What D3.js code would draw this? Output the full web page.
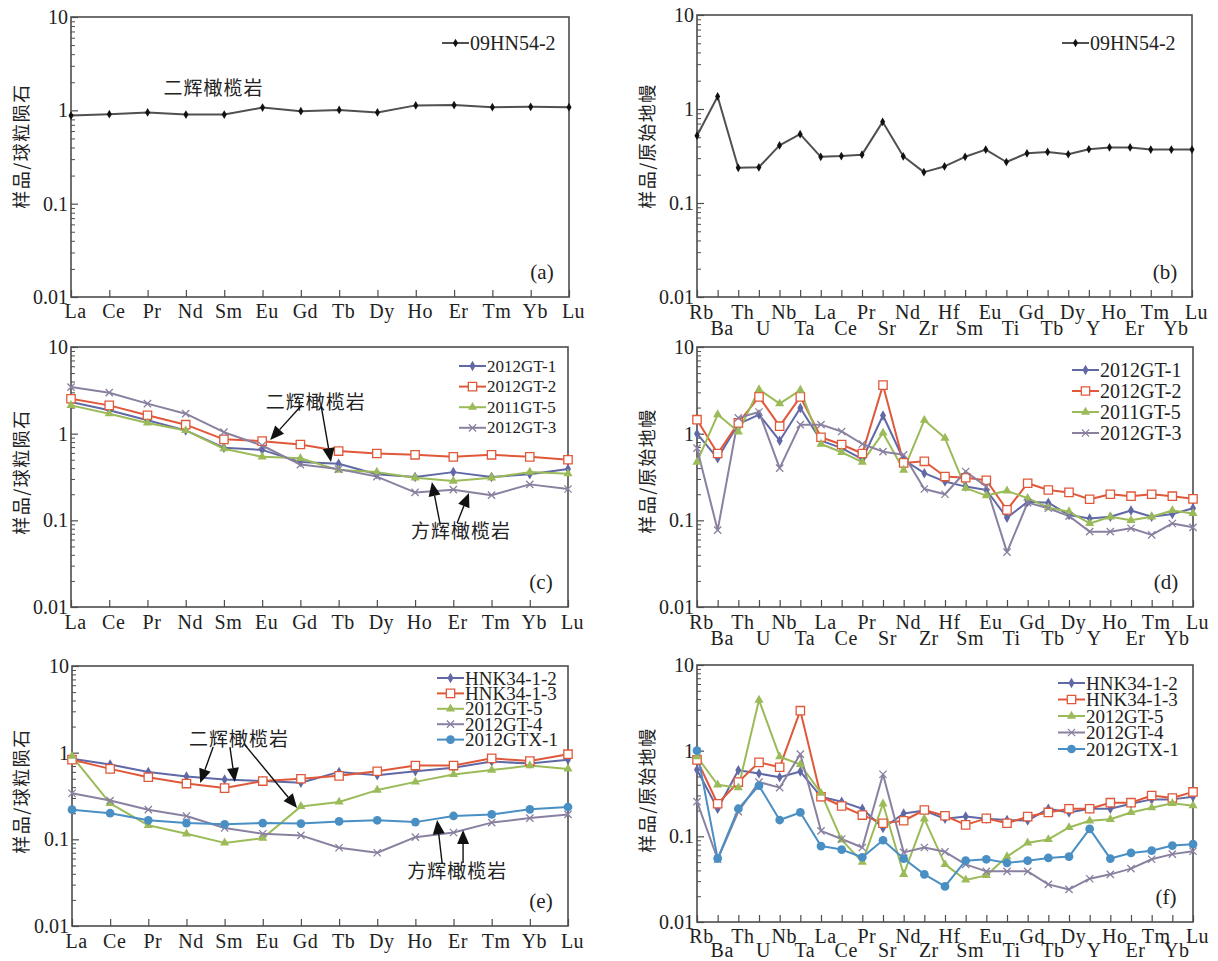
<!DOCTYPE html>
<html>
<head>
<meta charset="utf-8">
<script src="https://cdn.jsdelivr.net/npm/d3@7"></script>
<style>
  body { margin: 0; background: #fff; }
  svg text { font-family: "Liberation Serif", "Times New Roman", serif; fill: #222; }
  svg text.cjk { font-family: "Noto Sans CJK SC", "Noto Sans", sans-serif; }
</style>
</head>
<body>
<div id="chart"></div>
<script>
// ---------- categories and tick labels ----------
const reeLabels = ["La","Ce","Pr","Nd","Sm","Eu","Gd","Tb","Dy","Ho","Er","Tm","Yb","Lu"];
const spiderLabels = ["Rb","Ba","Th","U","Nb","Ta","La","Ce","Pr","Sr","Nd","Zr","Hf","Sm","Eu","Ti","Gd","Tb","Dy","Y","Ho","Er","Tm","Yb","Lu"];
const yTicks = [0.01, 0.1, 1, 10];
const yTickLabels = ["0.01", "0.1", "1", "10"];

// ---------- (a) chondrite normalised, (b) primitive mantle normalised ----------
const ree_09HN54_2 = [0.88,0.91,0.95,0.90,0.90,1.07,0.98,1.01,0.95,1.13,1.14,1.08,1.09,1.08];
const pm_09HN54_2 = [0.52,1.36,0.237,0.24,0.41,0.54,0.31,0.316,0.327,0.73,0.314,0.213,0.245,0.31,0.37,0.273,0.338,0.349,0.33,0.373,0.39,0.39,0.37,0.37,0.37];

// ---------- (c) / (d) ----------
const ree_2012GT_1 = [2.32,1.86,1.43,1.09,0.69,0.65,0.47,0.45,0.34,0.316,0.36,0.316,0.34,0.39];
const ree_2012GT_2 = [2.53,2.12,1.63,1.27,0.86,0.82,0.75,0.63,0.59,0.57,0.54,0.57,0.54,0.50];
const ree_2011GT_5 = [2.12,1.70,1.33,1.09,0.67,0.54,0.52,0.38,0.36,0.31,0.284,0.31,0.36,0.345];
const ree_2012GT_3 = [3.45,2.97,2.22,1.70,1.04,0.73,0.44,0.39,0.32,0.21,0.226,0.195,0.26,0.23];

const pm_2012GT_1 = [1.0,0.52,1.29,1.66,0.83,1.98,0.83,0.68,0.51,1.62,0.50,0.35,0.28,0.245,0.224,0.107,0.164,0.16,0.115,0.105,0.11,0.13,0.11,0.118,0.138];
const pm_2012GT_2 = [1.45,0.59,1.33,2.66,1.22,2.66,0.91,0.75,0.59,3.63,0.46,0.48,0.32,0.31,0.29,0.132,0.268,0.224,0.21,0.175,0.20,0.19,0.20,0.19,0.177];
const pm_2011GT_5 = [0.47,1.66,1.05,3.23,2.22,3.18,0.76,0.61,0.47,1.02,0.38,1.43,0.89,0.235,0.193,0.219,0.18,0.14,0.126,0.092,0.11,0.10,0.11,0.13,0.12];
const pm_2012GT_3 = [0.68,0.077,1.52,1.78,0.40,1.27,1.27,1.06,0.76,0.62,0.57,0.23,0.20,0.366,0.245,0.043,0.16,0.138,0.112,0.074,0.074,0.081,0.068,0.092,0.083];

// ---------- (e) / (f) ----------
const ree_HNK34_1_2 = [0.85,0.73,0.60,0.53,0.49,0.47,0.45,0.60,0.55,0.61,0.67,0.79,0.75,0.83];
const ree_HNK34_1_3 = [0.83,0.65,0.52,0.44,0.39,0.47,0.50,0.54,0.61,0.71,0.71,0.86,0.80,0.96];
const ree_2012GT_5 = [0.91,0.26,0.145,0.116,0.091,0.103,0.24,0.27,0.37,0.46,0.56,0.63,0.71,0.65];
const ree_2012GT_4 = [0.34,0.28,0.22,0.186,0.135,0.116,0.111,0.080,0.070,0.106,0.12,0.156,0.176,0.194];
const ree_2012GTX_1 = [0.22,0.20,0.166,0.154,0.149,0.154,0.152,0.161,0.166,0.158,0.186,0.194,0.222,0.236];

const pm_HNK34_1_2 = [0.60,0.21,0.59,0.54,0.49,0.57,0.29,0.254,0.21,0.125,0.185,0.20,0.16,0.17,0.16,0.155,0.153,0.21,0.19,0.21,0.21,0.24,0.27,0.27,0.29];
const pm_HNK34_1_3 = [0.78,0.24,0.43,0.73,0.64,2.93,0.29,0.226,0.177,0.142,0.152,0.203,0.174,0.136,0.162,0.142,0.17,0.19,0.21,0.21,0.247,0.247,0.30,0.28,0.33];
const pm_2012GT_5 = [0.85,0.40,0.37,3.9,0.85,0.69,0.32,0.091,0.050,0.24,0.036,0.16,0.047,0.031,0.035,0.058,0.084,0.092,0.127,0.152,0.158,0.19,0.216,0.243,0.228];
const pm_2012GT_4 = [0.254,0.054,0.194,0.43,0.37,0.91,0.116,0.093,0.074,0.53,0.065,0.074,0.066,0.047,0.039,0.039,0.039,0.0275,0.024,0.032,0.036,0.042,0.054,0.062,0.067];
const pm_2012GTX_1 = [1.0,0.055,0.21,0.39,0.155,0.19,0.077,0.07,0.057,0.09,0.055,0.036,0.026,0.052,0.054,0.049,0.052,0.056,0.058,0.122,0.055,0.064,0.068,0.078,0.081];

// ---------- styles ----------
const frameColor = "#4d4d4d";
const STYLE = {
  black:  { color: "#505050", marker: "diamond", fill: "#111", size: 22 },
  blue:   { color: "#6069a6", marker: "diamond", size: 32 },
  orange: { color: "#e0583a", marker: "square", size: 70 },
  green:  { color: "#9bbb59", marker: "triangle", size: 36 },
  gray:   { color: "#8a80a0", marker: "x", size: 36 },
  sky:    { color: "#4a8fc4", marker: "circle", size: 60 }
};
const symbolType = {
  diamond: d3.symbolDiamond, square: d3.symbolSquare, triangle: d3.symbolTriangle,
  x: d3.symbolTimes, circle: d3.symbolCircle
};

const width = 1218, height = 961;
const svg = d3.select("#chart").append("svg").attr("width", width).attr("height", height);

//panel layout + content
const panels = [
  { tag: "(a)", x0: 71, x1: 569, y0: 17, y1: 297, cats: reeLabels, spider: false,
    yTitle: "样品/球粒陨石", titleX: 20, titleY: 146, labelRows: [14],
    series: [{ name: "09HN54-2", values: ree_09HN54_2, style: STYLE.black }],
    legend: { x: 442, y: 43, step: 21, font: 20 },
    notes: [{ text: "二辉橄榄岩", at: [3.72, 1.78], arrows: [] }] },
  { tag: "(b)", x0: 697, x1: 1192, y0: 15, y1: 297, cats: spiderLabels, spider: true,
    yTitle: "样品/原始地幔", titleX: 646, titleY: 146, labelRows: [15, 31],
    series: [{ name: "09HN54-2", values: pm_09HN54_2, style: STYLE.black }],
    legend: { x: 1062, y: 43, step: 21, font: 20 }, notes: [] },
  { tag: "(c)", x0: 71, x1: 568, y0: 347, y1: 607, cats: reeLabels, spider: false,
    yTitle: "样品/球粒陨石", titleX: 20, titleY: 472, labelRows: [15],
    series: [
      { name: "2012GT-1", values: ree_2012GT_1, style: STYLE.blue },
      { name: "2012GT-2", values: ree_2012GT_2, style: STYLE.orange },
      { name: "2011GT-5", values: ree_2011GT_5, style: STYLE.green },
      { name: "2012GT-3", values: ree_2012GT_3, style: STYLE.gray }],
    legend: { x: 459, y: 366, step: 20.6, font: 17 },
    notes: [
      { text: "二辉橄榄岩", at: [6.40, 2.44], arrows: [[[6.04, 2.14], [5.21, 0.845]], [[6.54, 2.14], [6.80, 0.47]]] },
      { text: "方辉橄榄岩", at: [10.20, 0.0775], arrows: [[[9.65, 0.093], [9.44, 0.277]], [[10.10, 0.093], [10.41, 0.207]]] }] },
  { tag: "(d)", x0: 697, x1: 1193, y0: 347, y1: 607, cats: spiderLabels, spider: true,
    yTitle: "样品/原始地幔", titleX: 646, titleY: 471, labelRows: [15, 31],
    series: [
      { name: "2012GT-1", values: pm_2012GT_1, style: STYLE.blue },
      { name: "2012GT-2", values: pm_2012GT_2, style: STYLE.orange },
      { name: "2011GT-5", values: pm_2011GT_5, style: STYLE.green },
      { name: "2012GT-3", values: pm_2012GT_3, style: STYLE.gray }],
    legend: { x: 1072, y: 370, step: 21, font: 20 }, notes: [] },
  { tag: "(e)", x0: 72, x1: 568, y0: 666, y1: 926, cats: reeLabels, spider: false,
    yTitle: "样品/球粒陨石", titleX: 20, titleY: 791, labelRows: [15],
    series: [
      { name: "HNK34-1-2", values: ree_HNK34_1_2, style: STYLE.blue },
      { name: "HNK34-1-3", values: ree_HNK34_1_3, style: STYLE.orange },
      { name: "2012GT-5", values: ree_2012GT_5, style: STYLE.green },
      { name: "2012GT-4", values: ree_2012GT_4, style: STYLE.gray },
      { name: "2012GTX-1", values: ree_2012GTX_1, style: STYLE.sky }],
    legend: { x: 437, y: 678, step: 15.4, font: 19 },
    notes: [
      { text: "二辉橄榄岩", at: [4.38, 1.48], arrows: [[[3.70, 1.16], [3.36, 0.447]], [[4.14, 1.16], [4.27, 0.459]], [[4.53, 1.23], [5.90, 0.23]]] },
      { text: "方辉橄榄岩", at: [10.10, 0.0443], arrows: [[[9.70, 0.0533], [9.57, 0.167]], [[10.25, 0.0533], [10.25, 0.128]]] }] },
  { tag: "(f)", x0: 697, x1: 1193, y0: 665, y1: 922, cats: spiderLabels, spider: true,
    yTitle: "样品/原始地幔", titleX: 646, titleY: 790, labelRows: [14, 28],
    series: [
      { name: "HNK34-1-2", values: pm_HNK34_1_2, style: STYLE.blue },
      { name: "HNK34-1-3", values: pm_HNK34_1_3, style: STYLE.orange },
      { name: "2012GT-5", values: pm_2012GT_5, style: STYLE.green },
      { name: "2012GT-4", values: pm_2012GT_4, style: STYLE.gray },
      { name: "2012GTX-1", values: pm_2012GTX_1, style: STYLE.sky }],
    legend: { x: 1058, y: 683, step: 16.5, font: 19 }, notes: [] }
];

function drawMarker(sel, style, px, py) {
  const s = style;
  const open = s.marker === "square" || s.marker === "x";
  sel.append("path")
    .attr("d", d3.symbol().type(symbolType[s.marker]).size(s.size)())
    .attr("transform", "translate(" + px + "," + py + ")")
    .attr("fill", s.marker === "square" ? "#fff" : (s.marker === "x" ? "none" : (s.fill || s.color)))
    .attr("stroke", open ? s.color : "none")
    .attr("stroke-width", open ? 1.3 : 0);
}

function drawArrow(g, tail, tip) {
  const dx = tip[0] - tail[0], dy = tip[1] - tail[1];
  const len = Math.sqrt(dx * dx + dy * dy);
  const ux = dx / len, uy = dy / len;
  const hl = 14, hw = 6;
  const bx = tip[0] - ux * hl, by = tip[1] - uy * hl;
  g.append("line").attr("x1", tail[0]).attr("y1", tail[1]).attr("x2", bx).attr("y2", by)
    .attr("stroke", "#111").attr("stroke-width", 1.4);
  g.append("path")
    .attr("d", "M" + tip[0] + "," + tip[1] + "L" + (bx - uy * hw) + "," + (by + ux * hw) +
      "L" + (bx + uy * hw) + "," + (by - ux * hw) + "Z")
    .attr("fill", "#111");
}

function drawPanel(p) {
  const g = svg.append("g");
  const x = d3.scalePoint().domain(p.cats).range([p.x0, p.x1]);
  const xi = d3.scaleLinear().domain([0, p.cats.length - 1]).range([p.x0, p.x1]);
  const y = d3.scaleLog().domain([0.01, 10]).range([p.y1, p.y0]);

  // minor y ticks (2..9 of each decade), pointing inward
  const minor = [];
  [0.01, 0.1, 1].forEach(d => { for (let k = 2; k <= 9; k++) minor.push(k * d); });
  const yMinor = g.append("g").attr("transform", "translate(" + p.x0 + ",0)")
    .call(d3.axisRight(y).tickValues(minor).tickSize(4).tickFormat(""));
  yMinor.select(".domain").remove();
  yMinor.selectAll("line").attr("stroke", frameColor).attr("stroke-width", 1);

  const yAxis = g.append("g").attr("transform", "translate(" + p.x0 + ",0)")
    .call(d3.axisLeft(y).tickValues(yTicks).tickSizeInner(-7).tickSizeOuter(0).tickPadding(3)
      .tickFormat((d, i) => yTickLabels[i]));
  yAxis.select(".domain").remove();
  yAxis.selectAll("line").attr("stroke", frameColor).attr("stroke-width", 1.2);
  yAxis.selectAll("text").style("font-size", "20px").attr("fill", "#222");

  const xAxis = g.append("g").attr("transform", "translate(0," + p.y1 + ")")
    .call(d3.axisBottom(x).tickSizeInner(-7).tickSizeOuter(0));
  xAxis.select(".domain").remove();
  xAxis.selectAll("line").attr("stroke", frameColor).attr("stroke-width", 1.2);
  xAxis.selectAll("text")
    .style("font-size", "20px").style("letter-spacing", "0.5px").attr("fill", "#222")
    .attr("dx", 4)
    .attr("dy", "0.35em")
    .attr("y", (d, i) => p.spider ? p.labelRows[i % 2] : p.labelRows[0]);

  // frame
  g.append("rect").attr("x", p.x0).attr("y", p.y0)
    .attr("width", p.x1 - p.x0).attr("height", p.y1 - p.y0)
    .attr("fill", "none").attr("stroke", frameColor).attr("stroke-width", 1.6);

  // lines and markers
  const line = d3.line().x((d, i) => x(p.cats[i])).y(d => y(d));
  p.series.forEach(s => {
    g.append("path").datum(s.values)
      .attr("d", line).attr("fill", "none")
      .attr("stroke", s.style.color).attr("stroke-width", 2).attr("stroke-linejoin", "round");
  });
  p.series.forEach(s => {
    const mg = g.append("g");
    s.values.forEach((v, i) => drawMarker(mg, s.style, x(p.cats[i]), y(v)));
  });

  // legend
  p.series.forEach((s, k) => {
    const ly = p.legend.y + k * p.legend.step;
    g.append("line").attr("x1", p.legend.x).attr("x2", p.legend.x + 27)
      .attr("y1", ly).attr("y2", ly)
      .attr("stroke", s.style.color).attr("stroke-width", 2);
    drawMarker(g, s.style, p.legend.x + 13.5, ly);
    g.append("text").attr("x", p.legend.x + 28).attr("y", ly)
      .attr("dominant-baseline", "central")
      .style("font-size", p.legend.font + "px")
      .text(s.name);
  });

  // panel tag
  g.append("text").attr("x", p.x1 - 27).attr("y", p.y1 - 25)
    .attr("text-anchor", "middle").attr("dominant-baseline", "central")
    .style("font-size", "21px").text(p.tag);

  // y title
  g.append("text").attr("class", "cjk")
    .attr("transform", "translate(" + p.titleX + "," + p.titleY + ") rotate(-90)")
    .attr("text-anchor", "middle").attr("dominant-baseline", "central")
    .style("font-size", "18px").style("letter-spacing", "1.5px")
    .text(p.yTitle);

  // rock-type notes with arrows (positions in data space)
  p.notes.forEach(n => {
    g.append("text").attr("class", "cjk")
      .attr("x", xi(n.at[0])).attr("y", y(n.at[1]))
      .attr("text-anchor", "middle").attr("dominant-baseline", "central")
      .style("font-size", "19px").style("letter-spacing", "1px")
      .text(n.text);
    n.arrows.forEach(a => {
      drawArrow(g, [xi(a[0][0]), y(a[0][1])], [xi(a[1][0]), y(a[1][1])]);
    });
  });
}

panels.forEach(drawPanel);
</script>
</body>
</html>
